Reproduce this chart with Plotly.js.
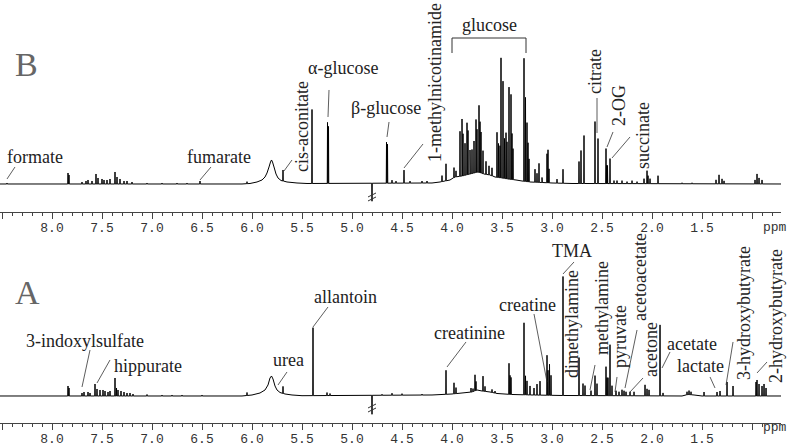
<!DOCTYPE html>
<html>
<head>
<meta charset="utf-8">
<script src="https://cdn.plot.ly/plotly-3.0.1.min.js"></script>
<style>
  html, body { margin: 0; padding: 0; background: #fff; }
  #plot { width: 787px; height: 446px; }
</style>
</head>
<body>
<div id="plot"></div>
<script>
// tick labels (ppm)
var tickVals = [8.5, 8.0, 7.5, 7.0, 6.5, 6.0, 5.5, 5.0, 4.5, 4.0, 3.5, 3.0, 2.5, 2.0, 1.5, 1.0];
var tickText = ['', '8.0', '7.5', '7.0', '6.5', '6.0', '5.5', '5.0', '4.5', '4.0', '3.5', '3.0', '2.5', '2.0', '1.5', ''];

// spectrum B: baseline (incl. broad urea signal and sugar hump)
var baseB_ppm = [8.55, 6.10, 6.02, 5.95, 5.90, 5.87, 5.85, 5.83, 5.815, 5.805, 5.795, 5.78, 5.76, 5.74, 5.71, 5.65, 5.55, 5.45, 4.20, 4.12, 4.02, 3.97, 3.90, 3.82, 3.74, 3.68, 3.62, 3.57, 3.50, 3.44, 3.36, 3.30, 3.22, 3.10, 3.00, 2.80, 0.71];
var baseB_lvl = [0, 0, 0.5, 2, 4, 7, 11, 17, 22, 24, 22, 17, 10, 6, 3.5, 2, 1, 0.5, 1, 2, 4, 7, 8, 10, 12, 10, 9, 7, 6, 5, 4, 3, 2, 1.5, 1, 0.5, 0];
// spectrum B: sharp signals
var shiftsB = [8.45, 7.84, 7.83, 7.70, 7.66, 7.64, 7.60, 7.56, 7.54, 7.50, 7.48, 7.45, 7.42, 7.37, 7.35, 7.32, 7.28, 7.25, 7.20, 7.05, 6.90, 6.75, 6.65, 6.52, 6.05,
  5.69, 5.40, 5.245, 5.235, 4.80, 4.655, 4.645, 4.60, 4.56, 4.48, 4.42, 4.30, 4.25, 4.10, 4.06,
  3.98, 3.96, 3.92, 3.90, 3.89, 3.87, 3.85, 3.84, 3.82, 3.80, 3.78, 3.76, 3.75, 3.73, 3.72, 3.71, 3.69, 3.66, 3.63, 3.60,
  3.55, 3.535, 3.52, 3.51, 3.49, 3.475, 3.46, 3.45, 3.43, 3.41, 3.40, 3.39, 3.28, 3.265, 3.25, 3.24, 3.23,
  3.17, 3.15, 3.13, 3.10, 3.05, 3.04, 3.03, 2.95, 2.89, 2.73, 2.71, 2.68, 2.57, 2.54, 2.46, 2.455, 2.45, 2.445, 2.42,
  2.38, 2.35, 2.30, 2.25, 2.20, 2.15, 2.08, 2.05, 2.04, 2.02, 1.94, 1.70, 1.60, 1.36, 1.33, 1.30, 1.28, 0.97, 0.95, 0.93, 0.90];
var heightsB = [1, 11, 9, 2, 3, 4, 3, 10, 6, 5, 4, 4, 5, 12, 7, 5, 3, 3, 2, 1, 1, 1, 1, 3, 2,
  11, 74, 61, 57, -18, 41, 39, 3, 2, 13, 2, 2, 2, 6, 17,
  10, 6, 45, 57, 42, 32, 52, 44, 24, 24, 32, 53, 43, 67, 51, 41, 23, 13, 9, 8,
  45, 34, 32, 120, 97, 40, 46, 37, 92, 85, 46, 31, 123, 84, 59, 39, 23,
  13, 9, 19, 5, 29, 33, 14, 4, 14, 22, 33, 48, 62, 45, 35, 18, 18, 18, 25,
  3, 3, 3, 2, 3, 2, 5, 13, 8, 5, 8, 1, 1, 4, 9, 5, 3, 4, 10, 6, 4];

// spectrum A: baseline
var baseA_ppm = [8.55, 6.10, 6.00, 5.92, 5.87, 5.84, 5.82, 5.805, 5.79, 5.77, 5.75, 5.72, 5.67, 5.60, 5.50, 4.20, 4.00, 3.90, 3.80, 3.75, 3.70, 3.62, 3.55, 3.40, 3.20, 2.90, 1.70, 1.64, 1.58, 1.50, 0.71];
var baseA_lvl = [0, 0, 1, 3, 6, 11, 18, 20, 17, 10, 6, 3.5, 2, 1, 0.3, 1, 2, 3, 4, 6, 5, 4, 2.5, 1.5, 1, 0.5, 0, 1.5, 1, 0, 0];
// spectrum A: sharp signals
var shiftsA = [7.84, 7.83, 7.70, 7.68, 7.64, 7.62, 7.57, 7.55, 7.52, 7.49, 7.47, 7.44, 7.42, 7.37, 7.355, 7.34, 7.31, 7.28, 7.25, 7.22, 7.19, 7.05, 6.90, 6.80, 6.70, 6.50, 6.05,
  5.69, 5.39, 5.25, 5.22, 4.80, 4.70, 4.60, 4.50, 4.30, 4.06, 3.98, 3.96, 3.81, 3.79, 3.77, 3.76, 3.69, 3.67, 3.60, 3.57,
  3.43, 3.42, 3.41, 3.28, 3.265, 3.25, 3.22, 3.18, 3.15, 3.12, 3.05, 3.04, 3.025, 3.01, 2.89, 2.73, 2.69, 2.67, 2.61, 2.57, 2.55,
  2.46, 2.45, 2.44, 2.42, 2.40, 2.36, 2.33, 2.30, 2.28, 2.26, 2.22, 2.18, 2.07, 2.05, 2.03, 1.92, 1.89, 1.65, 1.63, 1.61, 1.48, 1.35, 1.32,
  1.25, 1.19, 0.96, 0.95, 0.93, 0.90, 0.88, 0.86];
var heightsA = [10, 8, 3, 4, 4, 3, 12, 7, 6, 6, 5, 4, 5, 18, 8, 6, 5, 4, 3, 3, 2, 1.5, 1, 1, 1, 1, 3,
  7, 68, 3, 2, -19, 1, 2, 1.5, 1, 24, 11, 6, 4, 3, 16, 9, 15, 5, 3, 2,
  31, 19, 17, 72, 19, 14, 9, 7, 11, 14, 40, 25, 31, 20, 119, 38, 12, 10, 5, 20, 12,
  29, 18, 18, 51, 10, 5, 4, 6, 5, 4, 4, 4, 11, 7, 6, 71, 3, 3, 4, 3, 4, 4, 5,
  14, 10, 14, 16, 12, 10, 12, 8];

// labels: text, position (ppm, intensity), rotated?, leader line [ppm0, y0, ppm1, y1]
var labelsB = [
  {t: 'formate', x: 8.17, y: 27, r: 0, l: [8.37, 17, 8.45, 5]},
  {t: 'fumarate', x: 6.33, y: 27, r: 0, l: [6.41, 17, 6.52, 4]},
  {t: 'cis-aconitate', x: 5.50, y: 57, r: 1, l: [5.60, 24, 5.68, 13]},
  {t: 'α-glucose', x: 5.09, y: 116, r: 0, l: [5.23, 94, 5.24, 67]},
  {t: 'β-glucose', x: 4.66, y: 76, r: 0, l: [4.63, 62, 4.65, 47]},
  {t: '1-methylnicotinamide', x: 4.17, y: 101, r: 1, l: [4.29, 40, 4.48, 16]},
  {t: 'glucose', x: 3.63, y: 159, r: 0, l: null},
  {t: 'citrate', x: 2.57, y: 112, r: 1, l: [2.55, 86, 2.55, 51]},
  {t: '2-OG', x: 2.33, y: 78, r: 1, l: [2.39, 52, 2.45, 37]},
  {t: 'succinate', x: 2.09, y: 48, r: 1, l: [2.22, 47, 2.40, 26]}
];
var labelsA = [
  {t: '3-indoxylsulfate', x: 7.67, y: 55, r: 0, l: [7.62, 46, 7.70, 9]},
  {t: 'hippurate', x: 7.04, y: 30, r: 0, l: [7.42, 36, 7.55, 13]},
  {t: 'urea', x: 5.64, y: 36, r: 0, l: [5.65, 24, 5.74, 11]},
  {t: 'allantoin', x: 5.07, y: 99, r: 0, l: [5.24, 89, 5.39, 69]},
  {t: 'creatinine', x: 3.83, y: 63, r: 0, l: [3.86, 54, 4.05, 29]},
  {t: 'creatine', x: 3.25, y: 91, r: 0, l: [3.18, 82, 3.05, 14]},
  {t: 'TMA', x: 2.80, y: 145, r: 0, l: [2.78, 134, 2.89, 122]},
  {t: 'dimethylamine', x: 2.80, y: 72, r: 1, l: null},
  {t: 'methylamine', x: 2.50, y: 88, r: 1, l: [2.57, 31, 2.62, 6]},
  {t: 'pyruvate', x: 2.32, y: 59, r: 1, l: [2.35, 19, 2.37, 4]},
  {t: 'acetoacetate', x: 2.12, y: 119, r: 1, l: [2.15, 66, 2.27, 8]},
  {t: 'acetone', x: 2.01, y: 46, r: 1, l: [2.09, 18, 2.22, 4]},
  {t: 'acetate', x: 1.60, y: 52, r: 0, l: [1.82, 44, 1.90, 28]},
  {t: 'lactate', x: 1.52, y: 30, r: 0, l: [1.42, 19, 1.37, 8]},
  {t: '3-hydroxybutyrate', x: 1.08, y: 83, r: 1, l: [1.19, 54, 1.26, 11]},
  {t: '2-hydroxybutyrate', x: 0.76, y: 80, r: 1, l: [0.85, 34, 0.95, 23]}
];

function baseAt(bp, bl, p) {
  for (var i = 0; i < bp.length - 1; i++) {
    if (p <= bp[i] && p >= bp[i + 1]) {
      var f = (bp[i] - p) / (bp[i] - bp[i + 1]);
      return bl[i] + f * (bl[i + 1] - bl[i]);
    }
  }
  return 0;
}

function spectrum(bp, bl, shifts, heights, xa, ya) {
  var pts = bp.map(function (p, i) { return [p, bl[i]]; });
  shifts.forEach(function (p, i) {
    var b = baseAt(bp, bl, p);
    pts.push([p + 0.0025, b], [p, b + heights[i]], [p - 0.0025, b]);
  });
  pts.sort(function (a, b) { return b[0] - a[0]; });
  return {
    x: pts.map(function (d) { return d[0]; }),
    y: pts.map(function (d) { return d[1]; }),
    xaxis: xa, yaxis: ya,
    type: 'scatter', mode: 'lines',
    line: {color: '#000', width: 1, simplify: false},
    hoverinfo: 'skip', showlegend: false
  };
}

var data = [
  spectrum(baseA_ppm, baseA_lvl, shiftsA, heightsA, 'x', 'y'),
  spectrum(baseB_ppm, baseB_lvl, shiftsB, heightsB, 'x2', 'y2')
];

var annotations = [];
var shapes = [];
var lineStyle = {color: '#333', width: 0.8};

function addLabels(list, xr, yr) {
  list.forEach(function (d) {
    annotations.push({
      text: d.t, x: d.x, y: d.y, xref: xr, yref: yr, showarrow: false,
      textangle: d.r ? -90 : 0,
      font: {family: 'Liberation Serif, Times New Roman, serif', size: 18, color: '#222'}
    });
    if (d.l) {
      shapes.push({type: 'line', xref: xr, yref: yr, x0: d.l[0], y0: d.l[1], x1: d.l[2], y1: d.l[3], line: lineStyle});
    }
  });
}
addLabels(labelsB, 'x2', 'y2');
addLabels(labelsA, 'x', 'y');

// panel letters
annotations.push({text: 'B', x: 8.26, y: 120, xref: 'x2', yref: 'y2', showarrow: false,
  font: {family: 'Liberation Serif, serif', size: 34, color: '#666'}});
annotations.push({text: 'A', x: 8.25, y: 103, xref: 'x', yref: 'y', showarrow: false,
  font: {family: 'Liberation Serif, serif', size: 34, color: '#666'}});
// ppm unit labels
annotations.push({text: 'ppm', x: 0.77, y: 0.4888, xref: 'x2', yref: 'paper', showarrow: false,
  font: {family: 'Liberation Mono, monospace', size: 13, color: '#333'}});
annotations.push({text: 'ppm', x: 0.77, y: 0.0202, xref: 'x', yref: 'paper', showarrow: false,
  font: {family: 'Liberation Mono, monospace', size: 13, color: '#333'}});

// glucose bracket
shapes.push({type: 'path', xref: 'x2', yref: 'y2', path: 'M 4.00 131 L 4.00 146 L 3.26 146 L 3.26 131',
  line: {color: '#333', width: 1}});

// axis break marks at the water signal
[['x2', 'y2', -9], ['x2', 'y2', -13], ['x', 'y', -8], ['x', 'y', -12]].forEach(function (b) {
  shapes.push({type: 'line', xref: b[0], yref: b[1], x0: 4.84, y0: b[2] - 4, x1: 4.76, y1: b[2],
    line: {color: '#333', width: 1}});
});

function xAxis(anchor) {
  return {
    anchor: anchor, domain: [0, 0.9924], range: [8.52, 0.71],
    showgrid: false, zeroline: false, showline: true, linecolor: '#444', linewidth: 1,
    ticks: 'outside', ticklen: 6, tickwidth: 1, tickcolor: '#444',
    tickmode: 'array', tickvals: tickVals, ticktext: tickText,
    ticklabelstandoff: -3,
    tickfont: {family: 'Liberation Mono, Courier New, monospace', size: 13, color: '#333'},
    minor: {tickmode: 'linear', tick0: 0, dtick: 0.1, ticks: 'outside', ticklen: 3, tickcolor: '#444', tickwidth: 1, showgrid: false},
    fixedrange: true
  };
}

var layout = {
  width: 787, height: 446,
  margin: {l: 0, r: 0, t: 0, b: 0},
  paper_bgcolor: '#fff', plot_bgcolor: '#fff',
  showlegend: false,
  xaxis: xAxis('y'),
  yaxis: {domain: [0.0516, 0.5202], range: [-27, 182], visible: false, fixedrange: true},
  xaxis2: xAxis('y2'),
  yaxis2: {domain: [0.5247, 1], range: [-28, 184], visible: false, fixedrange: true},
  annotations: annotations,
  shapes: shapes
};

Plotly.newPlot('plot', data, layout, {displayModeBar: false, staticPlot: true});
</script>
</body>
</html>
